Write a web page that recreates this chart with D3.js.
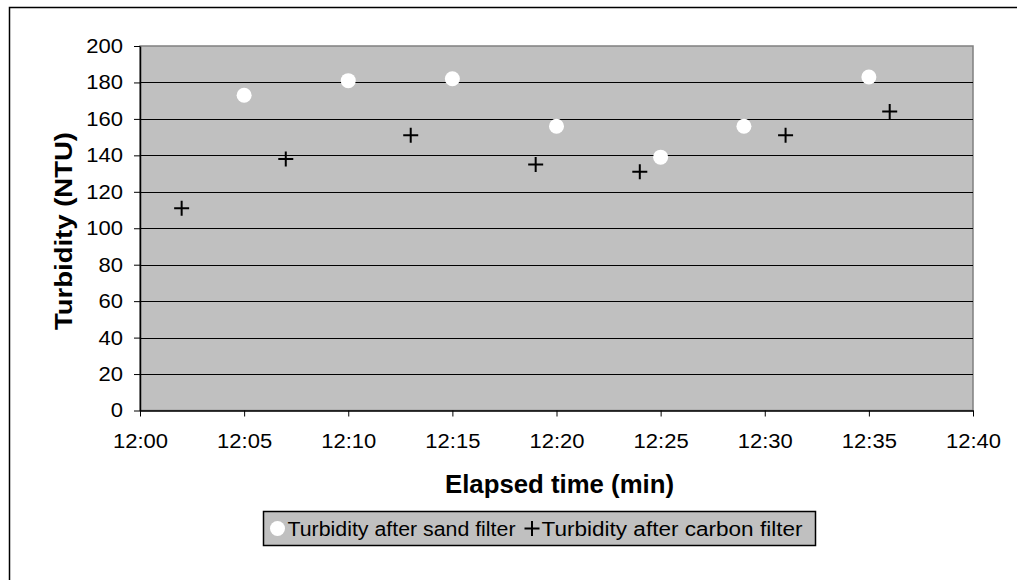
<!DOCTYPE html>
<html>
<head>
<meta charset="utf-8">
<script src="https://cdn.jsdelivr.net/npm/d3@7"></script>
<style>
  body { margin: 0; background: #fff; }
  svg text { font-family: "Liberation Sans", Arial, sans-serif; }
</style>
</head>
<body>
<div id="chart"></div>
<script>
// minutes after 12:00
const sandTimes = [5, 10, 15, 20, 25, 29, 35];
const sandValues = [173, 181, 182, 156, 139, 156, 183];
const carbonTimes = [2, 7, 13, 19, 24, 31, 36];
const carbonValues = [111, 138, 151, 135, 131, 151, 164];
const xTicks = [0, 5, 10, 15, 20, 25, 30, 35, 40];
const yTicks = [0, 20, 40, 60, 80, 100, 120, 140, 160, 180, 200];
const seriesNames = ['Turbidity after sand filter', 'Turbidity after carbon filter'];

const width = 1017;
const height = 580;
const plot = { left: 140, top: 46, right: 973, bottom: 410.5 };

// widen a text element a bit, the reference glyphs are slightly stretched
function stretch(sel, factor) {
  sel.each(function () {
    const w = this.getComputedTextLength();
    d3.select(this).attr('textLength', w * factor).attr('lengthAdjust', 'spacingAndGlyphs');
  });
}

const svg = d3.select('#chart').append('svg')
  .attr('width', width)
  .attr('height', height);

// outer chart border (only top and left visible in frame)
svg.append('rect')
  .attr('x', 9.5).attr('y', 7.5)
  .attr('width', 1020).attr('height', 600)
  .attr('fill', 'none').attr('stroke', '#000').attr('stroke-width', 1.5);

const x = d3.scaleLinear().domain([0, 40]).range([plot.left, plot.right]);
const y = d3.scaleLinear().domain([0, 200]).range([plot.bottom, plot.top]);

svg.append('rect')
  .attr('x', plot.left).attr('y', plot.top)
  .attr('width', plot.right - plot.left).attr('height', plot.bottom - plot.top)
  .attr('fill', '#c0c0c0').attr('stroke', '#808080').attr('stroke-width', 1.5);

// gridlines
svg.append('g').selectAll('line').data(yTicks.slice(1, -1)).enter()
  .append('line')
  .attr('x1', plot.left).attr('x2', plot.right)
  .attr('y1', (d) => Math.round(y(d)) + 0.5).attr('y2', (d) => Math.round(y(d)) + 0.5)
  .attr('stroke', '#000').attr('stroke-width', 1);

const fmt = (m) => '12:' + String(m).padStart(2, '0');

const xAxis = svg.append('g')
  .attr('transform', `translate(0,${plot.bottom})`)
  .call(d3.axisBottom(x).tickValues(xTicks).tickFormat(fmt).tickSize(6).tickSizeOuter(0).tickPadding(17));
xAxis.select('.domain').attr('stroke', '#000').attr('stroke-width', 1.5);
xAxis.selectAll('.tick line').attr('stroke', '#000');
xAxis.selectAll('text').attr('font-size', 20).attr('fill', '#000').call(stretch, 1.1);

const yAxis = svg.append('g')
  .attr('transform', `translate(${plot.left},0)`)
  .call(d3.axisLeft(y).tickValues(yTicks).tickSize(6).tickSizeOuter(0).tickPadding(11));
yAxis.select('.domain').attr('stroke', '#000').attr('stroke-width', 1.5);
yAxis.selectAll('.tick line').attr('stroke', '#000');
yAxis.selectAll('text').attr('font-size', 20).attr('fill', '#000').call(stretch, 1.1);

// axis titles
svg.append('text')
  .attr('x', 559.5).attr('y', 493)
  .attr('text-anchor', 'middle').attr('font-size', 25).attr('font-weight', 'bold')
  .text('Elapsed time (min)')
  .attr('textLength', 229).attr('lengthAdjust', 'spacingAndGlyphs');
svg.append('text')
  .attr('transform', 'translate(72,231) rotate(-90)')
  .attr('text-anchor', 'middle').attr('font-size', 23).attr('font-weight', 'bold')
  .text('Turbidity (NTU)')
  .attr('textLength', 198).attr('lengthAdjust', 'spacingAndGlyphs');

// sand series: white dots
svg.append('g').selectAll('circle').data(sandTimes).enter()
  .append('circle')
  .attr('cx', (d) => x(d))
  .attr('cy', (d, i) => y(sandValues[i]))
  .attr('r', 7.5)
  .attr('fill', '#fff');

// carbon series: plus markers
svg.append('g').selectAll('path').data(carbonTimes).enter()
  .append('path')
  .attr('transform', (d, i) => `translate(${x(d)},${y(carbonValues[i])})`)
  .attr('d', 'M-7.5,0H7.5M0,-7.5V7.5')
  .attr('stroke', '#000').attr('stroke-width', 2).attr('fill', 'none');

// legend
const legend = svg.append('g').attr('transform', 'translate(263.5,511.5)');
legend.append('rect')
  .attr('width', 552).attr('height', 34)
  .attr('fill', '#c0c0c0').attr('stroke', '#000').attr('stroke-width', 1.5);
legend.append('circle').attr('cx', 14).attr('cy', 17).attr('r', 7.5).attr('fill', '#fff');
legend.append('text').attr('x', 24).attr('y', 24.5).attr('font-size', 20)
  .text(seriesNames[0])
  .attr('textLength', 228).attr('lengthAdjust', 'spacingAndGlyphs');
legend.append('path').attr('d', 'M261,17H276M268.5,9.5V24.5')
  .attr('stroke', '#000').attr('stroke-width', 2);
legend.append('text').attr('x', 278).attr('y', 24.5).attr('font-size', 20)
  .text(seriesNames[1])
  .attr('textLength', 261).attr('lengthAdjust', 'spacingAndGlyphs');
</script>
</body>
</html>
